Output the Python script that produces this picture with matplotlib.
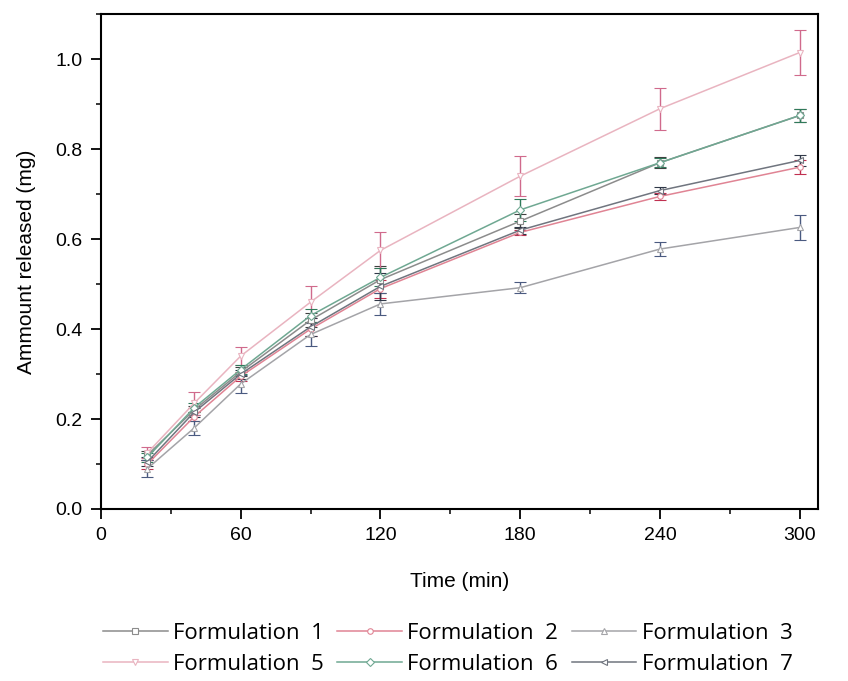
import matplotlib

matplotlib.use("Agg")
import matplotlib.pyplot as plt  # noqa: E402
from matplotlib.ticker import MultipleLocator  # noqa: E402

plt.rcParams["font.family"] = ["Liberation Sans", "DejaVu Sans"]

TIME = [20, 40, 60, 90, 120, 180, 240, 300]

LABELS = ["Formulation  1", "Formulation  2", "Formulation  3",
          "Formulation  5", "Formulation  6", "Formulation  7"]

F1 = [0.120, 0.220, 0.305, 0.420, 0.510, 0.640, 0.770, 0.875]
F2 = [0.100, 0.205, 0.295, 0.400, 0.490, 0.615, 0.695, 0.760]
F3 = [0.090, 0.180, 0.278, 0.388, 0.456, 0.492, 0.578, 0.626]
F5 = [0.125, 0.235, 0.340, 0.460, 0.575, 0.740, 0.890, 1.015]
F6 = [0.115, 0.225, 0.310, 0.430, 0.515, 0.665, 0.770, 0.875]
F7 = [0.105, 0.215, 0.300, 0.405, 0.495, 0.620, 0.708, 0.775]

E1 = [0.010, 0.010, 0.010, 0.015, 0.030, 0.015, 0.012, 0.015]
E2 = [0.010, 0.010, 0.010, 0.015, 0.020, 0.006, 0.008, 0.015]
E3 = [0.020, 0.015, 0.020, 0.025, 0.025, 0.012, 0.015, 0.028]
E5 = [0.012, 0.025, 0.020, 0.035, 0.040, 0.045, 0.047, 0.050]
E6 = [0.010, 0.010, 0.010, 0.015, 0.020, 0.025, 0.010, 0.015]
E7 = [0.010, 0.010, 0.010, 0.020, 0.030, 0.008, 0.008, 0.012]

SERIES = [F1, F2, F3, F5, F6, F7]
ERRORS = [E1, E2, E3, E5, E6, E7]

# line colour, error-bar colour, marker
STYLES = [
    ("#8c8c8c", "#404040", "s"),
    ("#e08494", "#c03050", "o"),
    ("#a4a4a8", "#4a5a80", "^"),
    ("#e9b4c0", "#d06a8c", "v"),
    ("#6fa892", "#2f7a5a", "D"),
    ("#70757f", "#303848", "<"),
]

fig = plt.figure(figsize=(8.48, 6.81), dpi=100)
ax = fig.add_axes([0.119, 0.2526, 0.846, 0.7264])

for ys, es, lab, (lc, ec, mk) in zip(SERIES, ERRORS, LABELS, STYLES):
    ax.errorbar(TIME, ys, yerr=es, color=lc, ecolor=ec, elinewidth=1.0,
                capsize=4, capthick=1.0, linewidth=1.1, marker=mk,
                markersize=4, markerfacecolor="white", markeredgecolor=lc,
                markeredgewidth=0.8, label=lab)

ax.set_xlim(0, 308)
ax.set_ylim(0, 1.1)
ax.xaxis.set_major_locator(MultipleLocator(60))
ax.xaxis.set_minor_locator(MultipleLocator(30))
ax.yaxis.set_major_locator(MultipleLocator(0.2))
ax.yaxis.set_minor_locator(MultipleLocator(0.1))
ax.yaxis.set_major_formatter(matplotlib.ticker.FormatStrFormatter("%.1f"))
ax.tick_params(which="major", direction="out", length=7, width=1.3,
               labelsize=14, pad=6)
ax.tick_params(which="minor", direction="out", length=3.5, width=1.1)
for sp in ax.spines.values():
    sp.set_linewidth(1.5)

ax.set_xlabel("Time (min)", fontsize=15, labelpad=20)
ax.set_ylabel("Ammount released (mg)", fontsize=15, labelpad=14)

# legend is filled row by row in the reference: reorder for column-major fill
handles, labels = ax.get_legend_handles_labels()
handles = [h[0] for h in handles]
order = [0, 3, 1, 4, 2, 5]
fig.legend([handles[i] for i in order], [labels[i] for i in order],
           loc="center", bbox_to_anchor=(0.528, 0.047),
           ncol=3, frameon=False, handlelength=2.9, columnspacing=0.6,
           handletextpad=0.25, labelspacing=0.45,
           prop={"family": "Open Sans", "size": 16})

fig.savefig("out.png", dpi=100)
